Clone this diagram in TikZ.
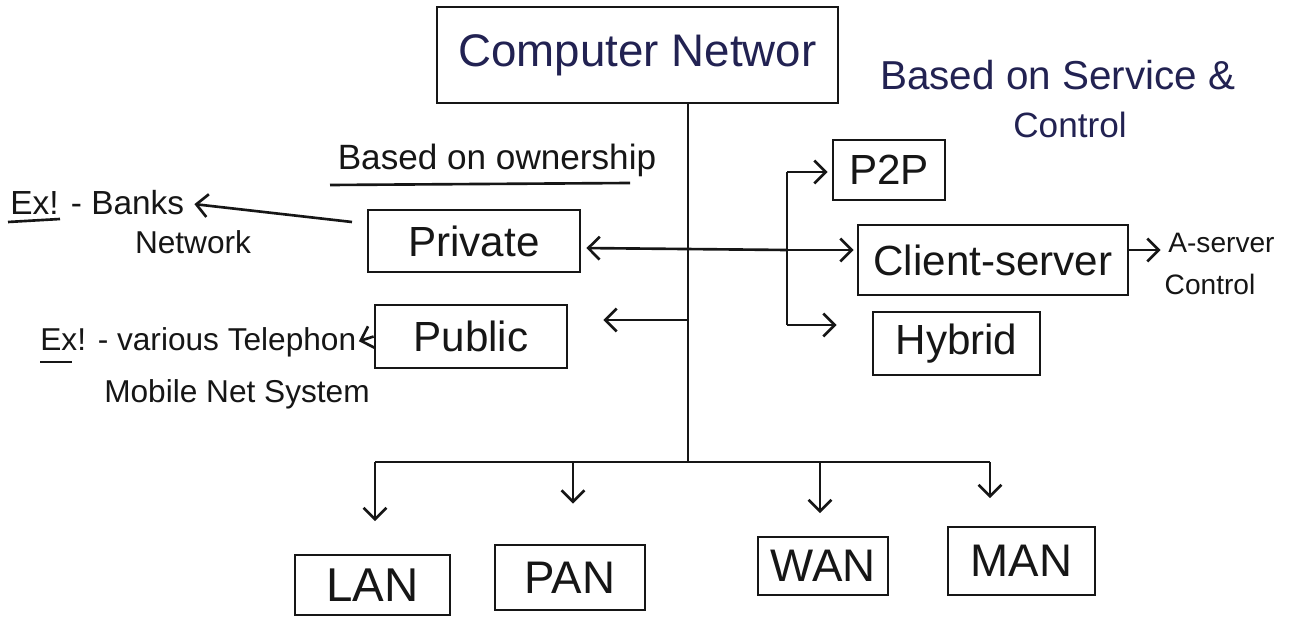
\documentclass[tikz,border=0pt]{standalone}
\usepackage{fontspec}
\setmainfont{Liberation Sans}
\usetikzlibrary{arrows.meta}
\definecolor{ink}{RGB}{22,22,22}
\definecolor{blueink}{RGB}{34,34,82}
\begin{document}
\begin{tikzpicture}[x=0.02cm,y=-0.02cm,
  box/.style={draw=ink, line width=1.6pt, inner sep=0pt, text=ink,
              font=\fontsize{24}{28}\selectfont},
  lbl/.style={inner sep=0pt, text=ink, font=\fontsize{18}{22}\selectfont},
  head/.style={inner sep=0pt, font=\fontsize{20}{24}\selectfont},
  wire/.style={draw=ink, line width=1.5pt},
  arr/.style={wire, -{Straight Barb[length=6.5pt,width=13pt,line width=1.5pt]}}]
\useasboundingbox (0,0) rectangle (1291,621);
\fill[white] (0,0) rectangle (1291,621);

% root
\node[box, minimum width=8.02cm, minimum height=1.92cm, text=blueink,
      font=\fontsize{26}{30}\selectfont] (cn) at (637.5,55) {Computer Networ};
\node[head, text=blueink, anchor=west, font=\fontsize{23}{27}\selectfont] (svc1) at (880,75) {Based on Service \&};
\node[head, text=blueink] (svc2) at (1070,125) {Control};

% ownership branch
\node[head, text=ink] (own) at (497,160) {Based on ownership};
\draw[wire] (330,185) -- (630,183);
\node[box, minimum width=4.24cm, minimum height=1.24cm] (priv) at (474,241) {Private};
\node[box, minimum width=3.84cm, minimum height=1.26cm] (pub) at (471,336.5) {Public};

\node[lbl, anchor=west, font=\fontsize{19}{23}\selectfont] (bank) at (10,203) {Ex! - Banks};
\node[lbl] (bank2) at (193,242) {Network};
\draw[wire] (8,222) -- (60,219);
\node[lbl, anchor=west] (tel) at (40,342) {Ex! - various Telephon};
\node[lbl] (tel2) at (237,394) {Mobile Net System};
\draw[wire] (40,362) -- (72,362);

% service & control branch
\node[box, minimum width=2.24cm, minimum height=1.2cm] (p2p) at (889,170) {P2P};
\node[box, minimum width=5.4cm, minimum height=1.4cm] (cs) at (993,260) {Client-server};
\node[box, minimum width=3.34cm, minimum height=1.26cm] (hyb) at (956.5,343.5) {Hybrid};
\node[lbl, anchor=west, font=\fontsize{16}{19}\selectfont] (as1) at (1168,243) {A-server};
\node[lbl, font=\fontsize{16}{19}\selectfont] (as2) at (1210,284) {Control};

% geographic branch
\node[box, minimum width=3.1cm, minimum height=1.2cm, font=\fontsize{27}{31}\selectfont] (lan) at (372.5,585) {LAN};
\node[box, minimum width=3.0cm, minimum height=1.3cm, font=\fontsize{26}{30}\selectfont] (pan) at (570,577.5) {PAN};
\node[box, minimum width=2.6cm, minimum height=1.16cm, font=\fontsize{26}{30}\selectfont] (wan) at (823,566) {WAN};
\node[box, minimum width=2.94cm, minimum height=1.36cm, font=\fontsize{26}{30}\selectfont] (man) at (1021.5,561) {MAN};

% junction points
\coordinate (tb) at (688,462);
\coordinate (hp) at (688,248);
\coordinate (hq) at (688,320);
\coordinate (rt) at (787,172);
\coordinate (rm) at (787,250);
\coordinate (rh) at (787,325);
\coordinate (pb) at (352,222);
\coordinate (bl) at (375,462);
\coordinate (bp) at (573,462);
\coordinate (bw) at (820,462);
\coordinate (bm) at (990,462);

% trunk
\draw[wire] (cn.south -| tb) -- (tb);

% ownership arrows
\draw[arr, shorten >=0.1cm] (rm) -- (priv.east |- hp);
\draw[arr, shorten >=0.7cm] (hq) -- (pub.east |- hq);
\draw[arr, shorten >=0.2cm] (pb) -- (bank.east);
\draw[arr, shorten >=0.05cm] (pub.west) -- (tel.east);

% service arrows
\draw[wire] (rt) -- (rh);
\draw[arr, shorten >=0.08cm] (rt) -- (p2p.west |- rt);
\draw[arr, shorten >=0.06cm] (rm) -- (cs.west |- rm);
\draw[arr, shorten >=0.7cm] (rh) -- (hyb.west |- rh);
\draw[arr, shorten >=0.15cm] (cs.east |- rm) -- (as1.west |- rm);

% network types
\draw[wire] (bl) -- (bm);
\draw[arr, shorten >=0.65cm] (bl) -- (lan.north -| bl);
\draw[arr, shorten >=0.8cm] (bp) -- (pan.north -| bp);
\draw[arr, shorten >=0.45cm] (bw) -- (wan.north -| bw);
\draw[arr, shorten >=0.55cm] (bm) -- (man.north -| bm);
\end{tikzpicture}
\end{document}
